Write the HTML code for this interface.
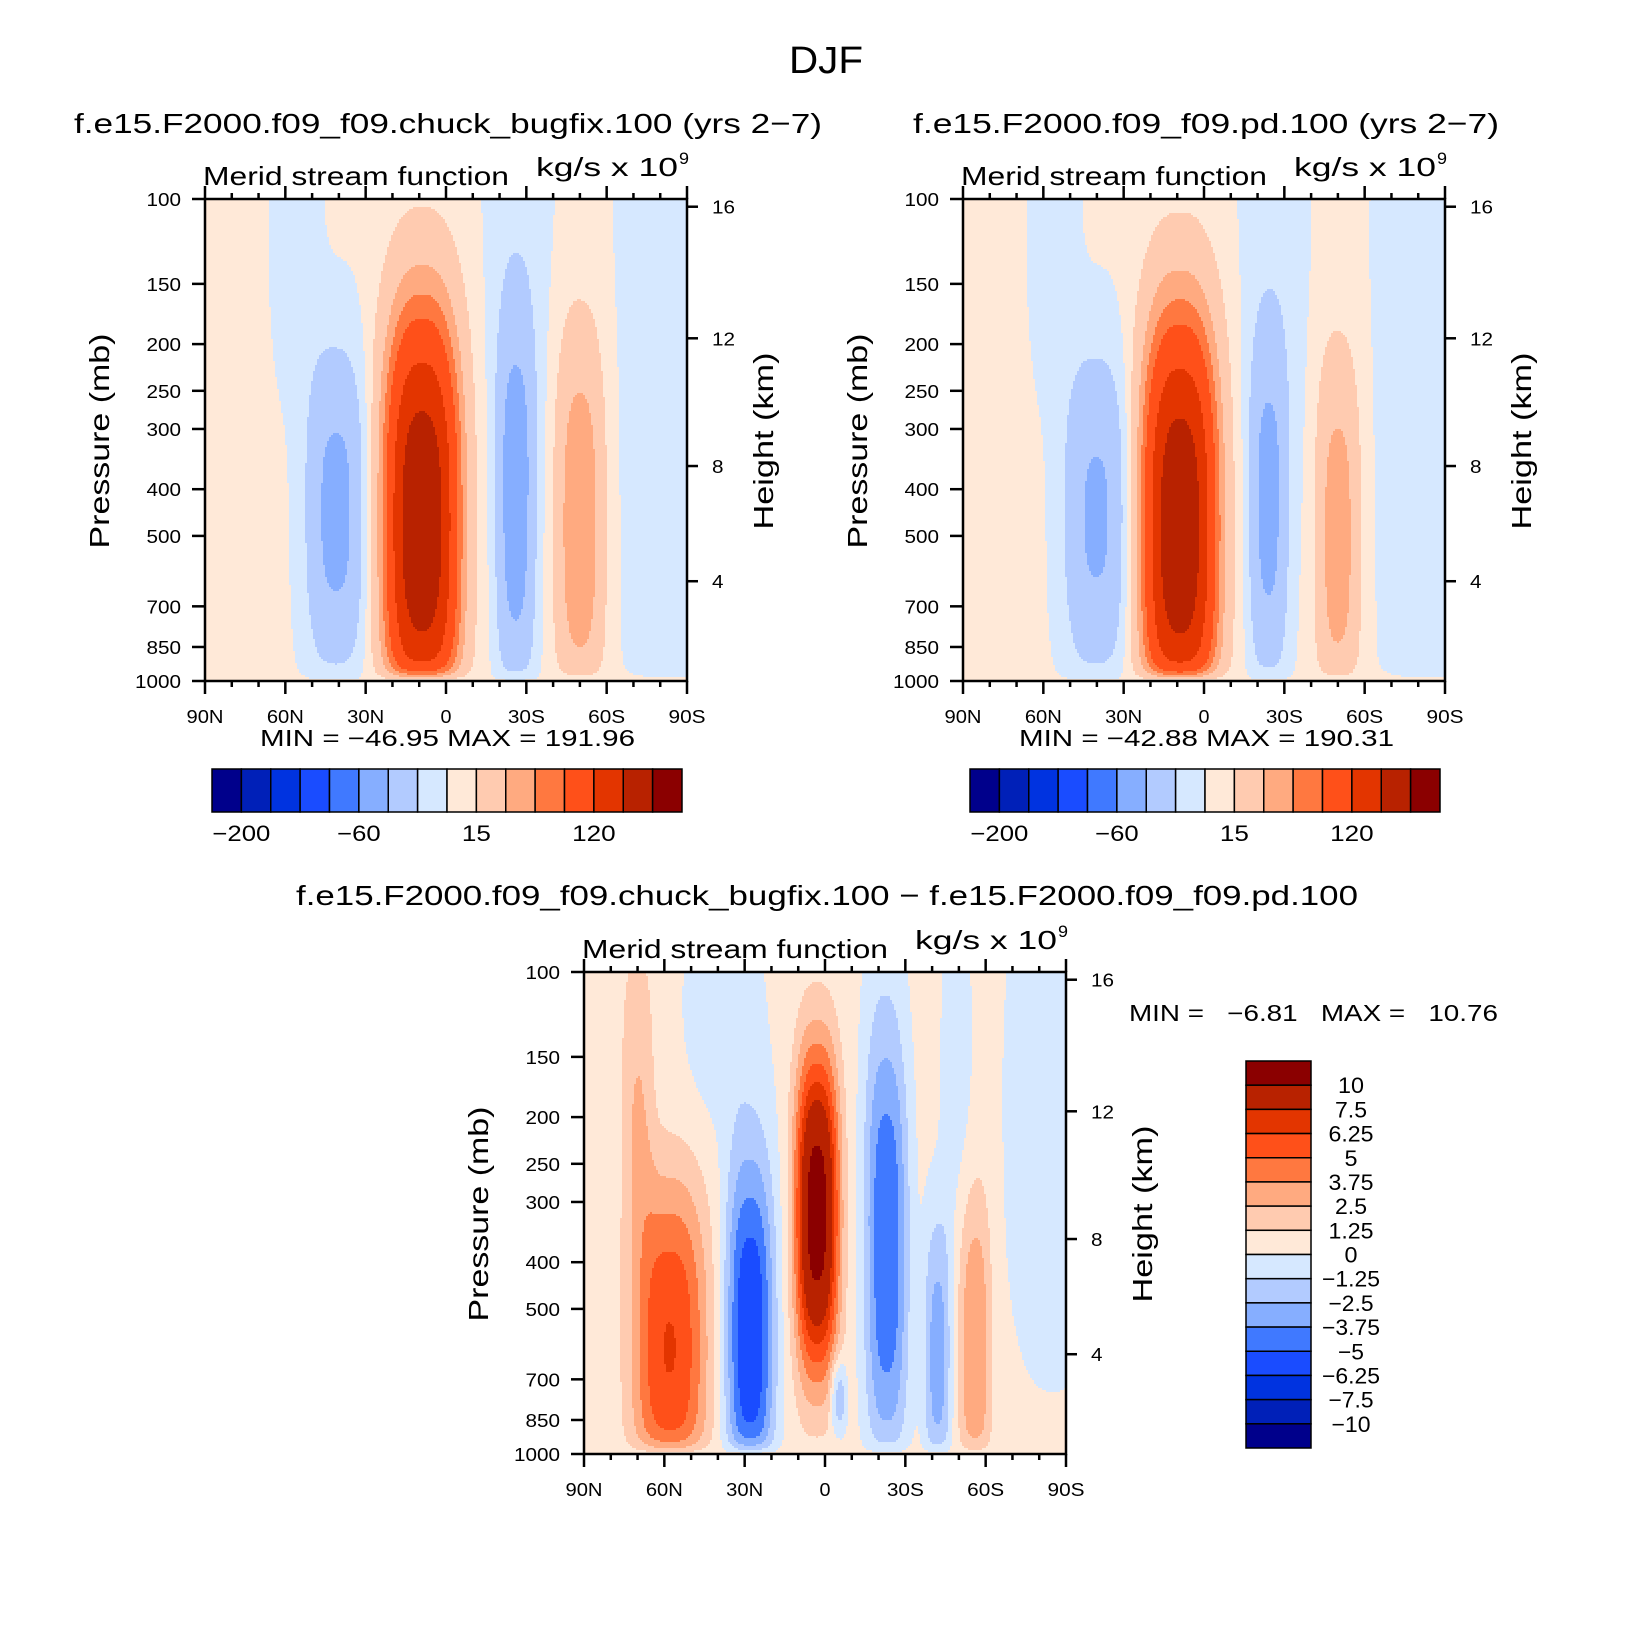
<!DOCTYPE html>
<html><head><meta charset="utf-8"><style>
html,body{margin:0;padding:0;background:#fff}
svg{display:block;font-family:"Liberation Sans",sans-serif}
</style></head><body>
<svg id="fig" width="1652" height="1649" viewBox="0 0 1652 1649" xmlns="http://www.w3.org/2000/svg">
<rect width="1652" height="1649" fill="#fff"/>
<text x="789" y="73" font-size="38" textLength="74" lengthAdjust="spacingAndGlyphs">DJF</text>
<text x="74" y="133" font-size="28" textLength="748" lengthAdjust="spacingAndGlyphs">f.e15.F2000.f09_f09.chuck_bugfix.100 (yrs 2−7)</text>
<text x="913" y="133" font-size="28" textLength="586" lengthAdjust="spacingAndGlyphs">f.e15.F2000.f09_f09.pd.100 (yrs 2−7)</text>
<text x="296" y="905" font-size="28" textLength="1062" lengthAdjust="spacingAndGlyphs">f.e15.F2000.f09_f09.chuck_bugfix.100 − f.e15.F2000.f09_f09.pd.100</text>
<g id="p1"></g>
<g id="p2"></g>
<g id="p3"></g>
<text x="260" y="746" font-size="23" textLength="375" lengthAdjust="spacingAndGlyphs">MIN = −46.95   MAX = 191.96</text>
<text x="1019" y="746" font-size="23" textLength="375" lengthAdjust="spacingAndGlyphs">MIN = −42.88   MAX = 190.31</text>
<text x="1129" y="1021" font-size="23" textLength="369" lengthAdjust="spacingAndGlyphs" xml:space="preserve">MIN =   −6.81   MAX =   10.76</text>
<g id="cb1"></g>
<g id="cb2"></g>
<g id="cb3"></g>
</svg>
<script>
const colors = ['#00008B','#0020B8','#0033E0','#1A4CFF','#4079FF','#86AEFF','#B2CBFF','#D6E8FF','#FFE9D8','#FFCBB0','#FFAA80','#FF7840','#FF5019','#E33500','#B82200','#8B0000'];
const levelsAbs = [-200,-160,-120,-80,-60,-40,-15,0,15,40,60,80,120,160,200];
const levelsDiff = [-10,-7.5,-6.25,-5,-3.75,-2.5,-1.25,0,1.25,2.5,3.75,5,6.25,7.5,10];
const cbLabelsAbs = ['−200','−60','15','120'];
const cbLabelsDiff = ['10','7.5','6.25','5','3.75','2.5','1.25','0','−1.25','−2.5','−3.75','−5','−6.25','−7.5','−10'];
const pressureTicks = [100,150,200,250,300,400,500,700,850,1000];
const heightTicks = [16,12,8,4];
const heightFrac = [0.984,0.711,0.446,0.207];
const latTicks = ['90N','60N','30N','0','30S','60S','90S'];

// field cells: lat (N positive), lat width, log-p center u=log10(1000/p), u width, amplitude
const p1Base = 2;
const p1Lat = [9, 41, 56, -26, -27, -50, -85];
const p1LatW = [14, 11, 9, 7, 12, 9, 20];
const p1U = [0.33, 0.35, 0.95, 0.36, 0.85, 0.33, 0.6];
const p1UW = [0.44, 0.33, 0.35, 0.4, 0.6, 0.4, 0.8];
const p1Amp = [192, -50, -8, -52, -10, 55, -10];

const p2Base = 2;
const p2Lat = [9, 40, 56, -24, -26, -50, -85];
const p2LatW = [14, 12, 9, 7, 12, 8, 20];
const p2U = [0.32, 0.34, 0.95, 0.35, 0.85, 0.3, 0.6];
const p2UW = [0.44, 0.33, 0.35, 0.36, 0.6, 0.38, 0.8];
const p2Amp = [190, -46, -8, -46, -10, 50, -10];

const p3Base = 0.4;
const p3Lat = [3, 58, 70, 28, 38, -23, -42, -5, -56, -85, -22, -49];
const p3LatW = [8, 14, 6, 9, 16, 8, 5, 3, 6, 18, 8, 6];
const p3U = [0.5, 0.22, 0.75, 0.25, 0.9, 0.4, 0.2, 0.12, 0.22, 0.7, 0.85, 0.8];
const p3UW = [0.33, 0.35, 0.3, 0.38, 0.25, 0.42, 0.3, 0.08, 0.33, 0.55, 0.3, 0.35];
const p3Amp = [10.8, 5.9, 2, -6.6, -1.0, -5.2, -3.5, -3, 3.3, -1.2, -1.0, -1.0];

const NS='http://www.w3.org/2000/svg';
function mk(tag, attrs, parent){const e=document.createElementNS(NS,tag);for(const k in attrs)e.setAttribute(k,attrs[k]);parent.appendChild(e);return e;}
const PW=482, PH=482;
function yOfP(p){return (1-Math.log10(1000/p))*PH;}
function field(lat,u,base,L,LW,U,UW,A){
  let v=base;
  const taper=1-Math.exp(-u/0.02);
  for(let i=0;i<L.length;i++){
    const dx=Math.abs((lat-L[i])/LW[i]), du=Math.abs((u-U[i])/UW[i]);
    v+=A[i]*Math.exp(-(Math.pow(dx,2.5)+Math.pow(du,2.5)))*taper;
  }
  return v;
}
function levelIndex(v,levels){let k=0;for(const l of levels){if(v>=l)k++;}return k;}
function label(g,x,y,txt,size,anchor,w){
  const a={x:x,y:y,'font-size':size,'text-anchor':anchor};
  if(w){a.textLength=w;a.lengthAdjust='spacingAndGlyphs';}
  return mk('text',a,g);
}

function drawPanel(g, ox, oy, base,L,LW,U,UW,A, levels){
  const step=2;
  const fill=mk('g',{},g);
  
  
  for(let py=0;py<PH;py+=step){
    const u=1-(py+step/2)/PH;
    let runStart=0, runIdx=-1;
    for(let px=0;px<=PW;px+=step){
      let idx=-2;
      if(px<PW){const lat=90-(px+step/2)/PW*180;idx=levelIndex(field(lat,u,base,L,LW,U,UW,A),levels);}
      if(idx!==runIdx){
        if(runIdx>=0){
          const r=mk('rect',{x:ox+runStart,y:oy+py,width:px-runStart+0.6,height:step+0.6,fill:colors[runIdx]},fill);
          
          
        }
        runStart=px;runIdx=idx;
      }
    }
  }
  const ax=mk('g',{stroke:'#000','stroke-width':2.5,fill:'none'},g);
  
  
  mk('rect',{x:ox,y:oy,width:PW,height:PH},ax);
  for(let d=0;d<=180;d+=10){
    const x=ox+d/180*PW, len=(d%30===0)?13:6;
    mk('line',{x1:x,y1:oy+PH,x2:x,y2:oy+PH+len},ax);
    mk('line',{x1:x,y1:oy,x2:x,y2:oy-len},ax);
  }
  latTicks.forEach((t,i)=>{
    const w=t.length===1?11:37;
    const tx=label(g,ox+i*PW/6-w/2,oy+PH+42,t,18,'start',w);
    tx.textContent=t;
    
    
  });
  pressureTicks.forEach(p=>{
    const y=oy+yOfP(p);
    mk('line',{x1:ox-13,y1:y,x2:ox,y2:y},ax);
    const s=String(p);
    const w=s.length*11.5;
    const tx=label(g,ox-24-w,y+7,s,18,'start',w);
    tx.textContent=s;
    
    
  });
  heightTicks.forEach((h,i)=>{
    const y=oy+PH*(1-heightFrac[i]);
    mk('line',{x1:ox+PW,y1:y,x2:ox+PW+11,y2:y},ax);
    const s=String(h);
    const tx=label(g,ox+PW+25,y+7,s,18,'start',s.length*11.5);
    tx.textContent=h;
    
    
  });
  let t=label(g,ox-2,oy-14,'',26,'start',306);
  t.textContent='Merid stream function';
  
  
  t=label(g,ox+PW-151,oy-23,'',26,'start',142);
  t.textContent='kg/s x 10';
  
  
  t=label(g,ox+PW-8,oy-35,'',17,'start',10);
  t.textContent='9';
  
  
  t=mk('text',{x:0,y:0,'font-size':28,'text-anchor':'middle',textLength:215,lengthAdjust:'spacingAndGlyphs',transform:`translate(${ox-96},${oy+242}) rotate(-90)`},g);
  t.textContent='Pressure (mb)';
  
  
  t=mk('text',{x:0,y:0,'font-size':28,'text-anchor':'middle',textLength:177,lengthAdjust:'spacingAndGlyphs',transform:`translate(${ox+PW+86},${oy+242}) rotate(-90)`},g);
  t.textContent='Height (km)';
  
  
}
drawPanel(document.getElementById('p1'),205,199,p1Base,p1Lat,p1LatW,p1U,p1UW,p1Amp,levelsAbs);
drawPanel(document.getElementById('p2'),963,199,p2Base,p2Lat,p2LatW,p2U,p2UW,p2Amp,levelsAbs);
drawPanel(document.getElementById('p3'),584,972,p3Base,p3Lat,p3LatW,p3U,p3UW,p3Amp,levelsDiff);

function hColorbar(g,x0,y0,w,h){
  const bw=w/16;
  colors.forEach((c,i)=>{
    const r=mk('rect',{x:x0+i*bw,y:y0,width:bw,height:h,fill:c,stroke:'#000','stroke-width':1.5},g);
    
    
  });
  cbLabelsAbs.forEach((l,i)=>{
    const wd=l.length*14.5;
    const t=label(g,x0+(1+4*i)*bw-wd/2,y0+h+29,'',22,'start',wd);
    t.textContent=l;
    
    
  });
}
hColorbar(document.getElementById('cb1'),212,769,470,43);
hColorbar(document.getElementById('cb2'),970,769,470,43);
(function(){
  const g=document.getElementById('cb3');
  const x0=1246,y0=1061,w=65,h=387,bh=h/16;
  for(let i=0;i<16;i++){
    const r=mk('rect',{x:x0,y:y0+i*bh,width:w,height:bh,fill:colors[15-i],stroke:'#000','stroke-width':1.5},g);
    
    
  }
  cbLabelsDiff.forEach((l,i)=>{
    const wd=l.replace('.','').length*13+(l.includes('.')?6:0);
    const t=label(g,1351-wd/2,y0+(i+1)*bh+8,'',22,'start',wd);
    t.textContent=l;
    
    
  });
})();
</script>
</body></html>
